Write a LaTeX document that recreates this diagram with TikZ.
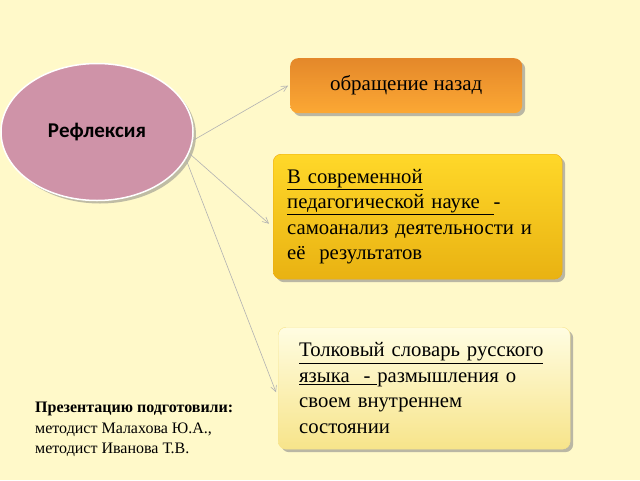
\documentclass[tikz,border=0pt]{standalone}
\usepackage{fontspec}
\setmainfont{Liberation Serif}
\newfontfamily\calfont{Carlito}
\usepackage{xcolor}
\usetikzlibrary{shapes.geometric,shadows,arrows.meta}
\definecolor{bgyellow}{HTML}{FFF9C9}
\definecolor{mauve}{HTML}{CF93A8}
\definecolor{orangetop}{HTML}{E4882A}
\definecolor{orangebot}{HTML}{FCA834}
\definecolor{goldtop}{HTML}{FFD829}
\definecolor{goldbot}{HTML}{E9B212}
\definecolor{paletop}{HTML}{FFFDE2}
\definecolor{palebot}{HTML}{F7E48A}

\begin{document}
\begin{tikzpicture}[x=1pt, y=-1pt,
    box/.style={rounded corners=8pt, anchor=north west, align=left,
      drop shadow={shadow xshift=3pt, shadow yshift=-3pt, fill=black!45, opacity=0.6},
      font=\fontsize{20.7}{25.5}\selectfont},
    link/.style={-{Straight Barb[length=6pt, width=6pt]}, draw=black!30, line width=0.6pt}]
    \fill [bgyellow] (0,0) rectangle (640,480);
    \useasboundingbox (0,0) rectangle (640,480);

    %% the oval on the left
    \node [ellipse, minimum width=192, minimum height=137, fill=mauve,
      draw=white, line width=1.5pt,
      drop shadow={shadow xshift=3pt, shadow yshift=-3pt, fill=black!50, opacity=0.5},
      font=\calfont\bfseries\fontsize{21}{24}\selectfont] (refl) at (97,132) {Рефлексия};

    %% three boxes
    \node [box, minimum width=232, minimum height=55, top color=orangetop,
      bottom color=orangebot, align=center, font=\fontsize{21}{24}\selectfont] (back) at (290,58)
      {\raisebox{-2pt}{обращение назад}};
    \node [box, minimum width=289, minimum height=125, text width=261,
      inner xsep=14pt, top color=goldtop, bottom color=goldbot, draw=goldbot!80!orange] (modern) at (273,154)
      {\underline{В современной}\\
       \underline{педагогической науке\ \ }-\\
       самоанализ деятельности и\\
       её\ \ результатов};
    \node [box, minimum width=292, minimum height=122, text width=250,
      inner xsep=21pt, top color=paletop, bottom color=palebot, draw=palebot] (dict) at (278,327)
      {\underline{Толковый словарь русского}\\
       \underline{языка\ \ -\ }размышления о\\
       своем внутреннем\\
       состоянии};

    \draw [link] (refl.-5) -- ([xshift=-2pt]back.west);
    \draw [link] (refl.-13) -- ([xshift=-4pt, yshift=-7pt]modern.west);
    \draw [link] (refl.-17) -- ([xshift=-2pt, yshift=-4pt]dict.west);

    %% authors
    \node [anchor=north west, align=left, inner sep=0pt,
      font=\fontsize{16}{20.5}\selectfont] (authors) at (35,402)
      {\textbf{Презентацию подготовили:}\\
       методист Малахова Ю.А.,\\
       методист Иванова Т.В.};
\end{tikzpicture}
\end{document}
